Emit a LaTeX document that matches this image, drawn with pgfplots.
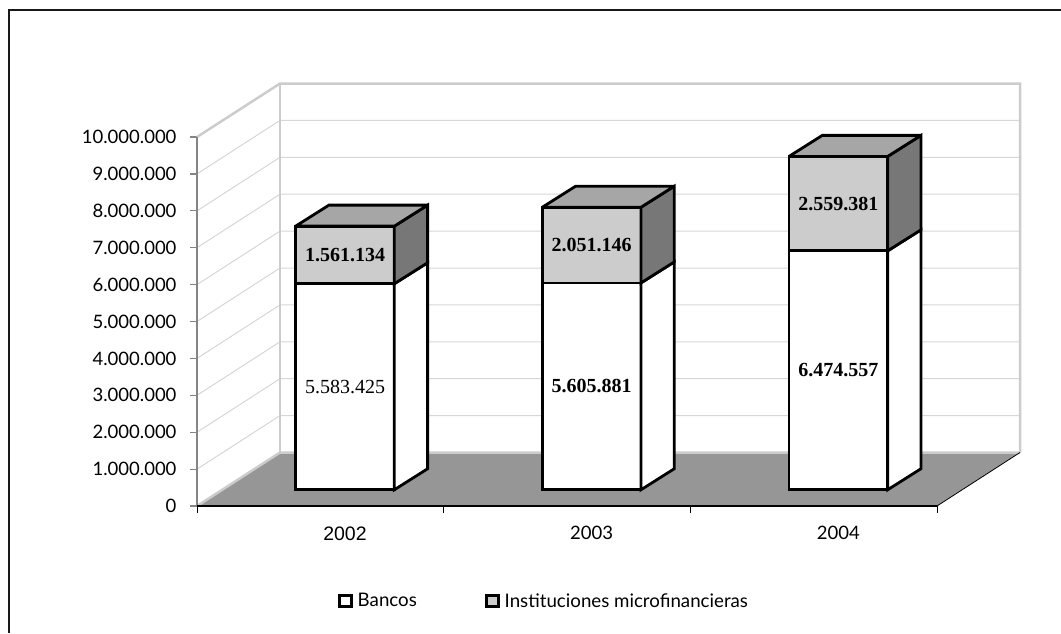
\documentclass[border=0pt]{standalone}
\usepackage{fontspec}
\usepackage{pgfplots}
\pgfplotsset{compat=1.18}
\setmainfont{Lato}
\newfontfamily\arialf{Liberation Sans}
\newfontfamily\serf{Liberation Serif}
\definecolor{wallc}{HTML}{CCCCCC}
\definecolor{gridc}{HTML}{D6D6D6}
\definecolor{floorc}{HTML}{969696}
\definecolor{imffront}{HTML}{CCCCCC}
\definecolor{imfside}{HTML}{777777}
\definecolor{imftop}{HTML}{A6A6A6}
\definecolor{axc}{HTML}{858585}
\pgfplotsset{base/.style={at={(197pt,-506pt)}, anchor=south west, scale only axis,
  width=823pt, height=422.5pt, xmin=-0.5, xmax=2.8365, clip=false},
  sqleg/.style={legend image code/.code={\draw[##1, line width=2.8pt] (0pt,-5.5pt) rectangle (12pt,5.5pt);}},
  face/.style={draw=black, line width=2.8pt, line join=miter, miter limit=3, mark=none, forget plot}}
\begin{document}
\begin{tikzpicture}[x=1pt,y=1pt]
\useasboundingbox (0,0) rectangle (1061,-633);
\draw[line width=2.5pt, color=black!90] (9,-633) -- (9,-10) -- (1061,-10);
% ---------- axis A: walls, floor, grid, ticks
\begin{axis}[base, ymin=0, ymax=11450000,
  axis lines*=left, axis line style={draw=none},
  tick align=outside,
  major tick length=7pt,
  /pgf/number format/assume math mode=true,
  /pgf/number format/1000 sep={.},
  /pgf/number format/fixed,
  /pgf/number format/precision=0,
  scaled y ticks=false,
  ytick={0,1000000,2000000,3000000,4000000,5000000,6000000,7000000,8000000,9000000,10000000},
  y tick style={axc, line width=1.2pt},
  yticklabel style={font=\fontsize{18.5}{20}\selectfont, xshift=-10pt},
  xtick={-0.5,0.5,1.5,2.5},
  xticklabels={,,,},
  x tick style={black, line width=1pt},
  extra x ticks={0.1,1.1,2.1},
  extra x tick labels={{\arialf\fontsize{19.5}{21}\selectfont 2002},2003,2004},
  extra x tick style={major tick length=0pt},
  xticklabel style={font=\fontsize{18.5}{20}\selectfont, yshift=-17pt},
]
\fill[floorc] (axis cs:-0.5,0) -- (axis cs:-0.1635,1450000) -- (axis cs:2.8365,1450000) -- (axis cs:2.5,0) -- cycle;
\draw[gridc, line width=1pt] (axis cs:-0.5,1000000) -- (axis cs:-0.1635,2450000) -- (axis cs:2.8365,2450000);
\draw[gridc, line width=1pt] (axis cs:-0.5,2000000) -- (axis cs:-0.1635,3450000) -- (axis cs:2.8365,3450000);
\draw[gridc, line width=1pt] (axis cs:-0.5,3000000) -- (axis cs:-0.1635,4450000) -- (axis cs:2.8365,4450000);
\draw[gridc, line width=1pt] (axis cs:-0.5,4000000) -- (axis cs:-0.1635,5450000) -- (axis cs:2.8365,5450000);
\draw[gridc, line width=1pt] (axis cs:-0.5,5000000) -- (axis cs:-0.1635,6450000) -- (axis cs:2.8365,6450000);
\draw[gridc, line width=1pt] (axis cs:-0.5,6000000) -- (axis cs:-0.1635,7450000) -- (axis cs:2.8365,7450000);
\draw[gridc, line width=1pt] (axis cs:-0.5,7000000) -- (axis cs:-0.1635,8450000) -- (axis cs:2.8365,8450000);
\draw[gridc, line width=1pt] (axis cs:-0.5,8000000) -- (axis cs:-0.1635,9450000) -- (axis cs:2.8365,9450000);
\draw[gridc, line width=1pt] (axis cs:-0.5,9000000) -- (axis cs:-0.1635,10450000) -- (axis cs:2.8365,10450000);
\draw[wallc, line width=2.5pt, line join=miter] (axis cs:-0.5,10000000) -- (axis cs:-0.1635,11450000) -- (axis cs:2.8365,11450000) -- (axis cs:2.8365,1450000);
\draw[wallc, line width=2.5pt] (axis cs:-0.1635,11450000) -- (axis cs:-0.1635,1450000);
\draw[wallc, line width=2.5pt] (axis cs:-0.5,0) -- (axis cs:-0.1635,1450000) -- (axis cs:2.8365,1450000);
\draw[black, line width=0.8pt] (axis cs:2.5,0) -- (axis cs:2.8365,1450000);
\draw[axc, line width=1.3pt] (axis cs:-0.5,0) -- (axis cs:-0.5,10000000);
\draw[black, line width=1.5pt] (axis cs:-0.5,0) -- (axis cs:2.5,0);
\end{axis}
% ---------- axis B: front faces (stacked bars), shifted baseline for depth
\begin{axis}[base, ymin=-440000, ymax=11010000, hide axis,
  ybar stacked, bar width=0.4,
  legend columns=2,
  legend style={at={(rel axis cs:0.4234,-0.2249)}, anchor=center, draw=none, fill=none,
    font=\fontsize{18.7}{20}\selectfont,
    nodes={inner xsep=4.5pt},
    /tikz/every even column/.append style={column sep=64pt},
    /tikz/every odd column/.append style={column sep=0pt}},
]
\addplot[draw=black, line width=2.8pt, fill=white, sqleg]
  coordinates {(0.1,5583425) (1.1,5605881) (2.1,6474557)};
\addplot[draw=black, line width=2.8pt, fill=imffront, sqleg]
  coordinates {(0.1,1561134) (1.1,2051146) (2.1,2559381)};
\legend{Bancos, Instituciones microfinancieras}
\end{axis}
% ---------- axis C: side and top faces, labels
\begin{axis}[base, ymin=0, ymax=11450000, hide axis]
\addplot[face, fill=white] coordinates {(0.3,440000) (0.435,1010000) (0.435,6593425) (0.3,6023425)} -- cycle;
\addplot[face, fill=imfside] coordinates {(0.3,6023425) (0.435,6593425) (0.435,8154559) (0.3,7584559)} -- cycle;
\addplot[face, fill=imftop] coordinates {(-0.1,7584559) (0.035,8154559) (0.435,8154559) (0.3,7584559)} -- cycle;
\addplot[face, fill=white] coordinates {(1.3,440000) (1.435,1010000) (1.435,6615881) (1.3,6045881)} -- cycle;
\addplot[face, fill=imfside] coordinates {(1.3,6045881) (1.435,6615881) (1.435,8667027) (1.3,8097027)} -- cycle;
\addplot[face, fill=imftop] coordinates {(0.9,8097027) (1.035,8667027) (1.435,8667027) (1.3,8097027)} -- cycle;
\addplot[face, fill=white] coordinates {(2.3,440000) (2.435,1010000) (2.435,7484557) (2.3,6914557)} -- cycle;
\addplot[face, fill=imfside] coordinates {(2.3,6914557) (2.435,7484557) (2.435,10043938) (2.3,9473938)} -- cycle;
\addplot[face, fill=imftop] coordinates {(1.9,9473938) (2.035,10043938) (2.435,10043938) (2.3,9473938)} -- cycle;
\node[font=\serf\fontsize{20}{22}\selectfont] at (axis cs:0.1,3231712) {5.583.425};
\node[font=\serf\bfseries\fontsize{20}{22}\selectfont] at (axis cs:0.1,6803992) {1.561.134};
\node[font=\serf\bfseries\fontsize{20}{22}\selectfont] at (axis cs:1.1,3242940) {5.605.881};
\node[font=\serf\bfseries\fontsize{20}{22}\selectfont] at (axis cs:1.1,7071454) {2.051.146};
\node[font=\serf\bfseries\fontsize{20}{22}\selectfont] at (axis cs:2.1,3677278) {6.474.557};
\node[font=\serf\bfseries\fontsize{20}{22}\selectfont] at (axis cs:2.1,8194248) {2.559.381};
\end{axis}
\end{tikzpicture}
\end{document}
